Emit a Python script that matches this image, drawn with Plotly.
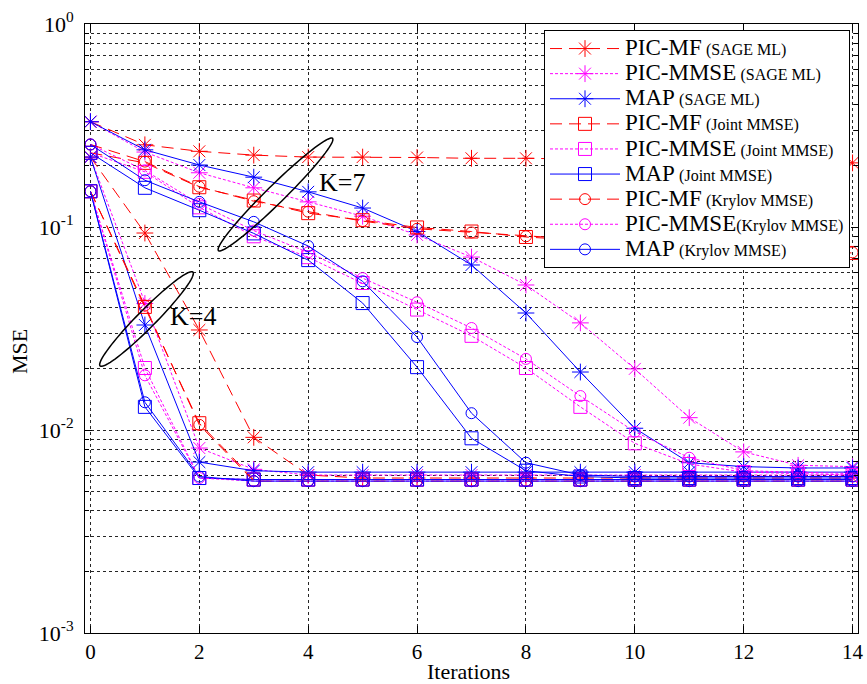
import math
import plotly.graph_objects as go

# ---------------- data ----------------
iterations = list(range(15))

# K = 7
pic_mf_sage_k7 = [0.33, 0.254, 0.236, 0.226, 0.221, 0.221, 0.220, 0.218, 0.218, 0.216, 0.214, 0.212, 0.210, 0.208, 0.207]
pic_mmse_sage_k7 = [0.33, 0.234, 0.185, 0.156, 0.133, 0.113, 0.0914, 0.0711, 0.0518, 0.0337, 0.0200, 0.0115, 0.0078, 0.0067, 0.0066]
map_sage_k7 = [0.33, 0.240, 0.202, 0.176, 0.149, 0.124, 0.095, 0.065, 0.0377, 0.0193, 0.0102, 0.0069, 0.0066, 0.0065, 0.0065]
pic_mf_joint_k7 = [0.232, 0.207, 0.157, 0.135, 0.117, 0.108, 0.0995, 0.095, 0.0893, 0.086, 0.083, 0.080, 0.078, 0.076, 0.0745]
pic_mmse_joint_k7 = [0.232, 0.187, 0.125, 0.090, 0.071, 0.053, 0.0392, 0.0291, 0.0202, 0.0130, 0.0086, 0.0068, 0.0062, 0.0061, 0.0060]
map_joint_k7 = [0.232, 0.156, 0.121, 0.093, 0.0687, 0.0422, 0.0204, 0.0091, 0.0063, 0.0059, 0.0058, 0.0058, 0.0058, 0.0058, 0.0058]
pic_mf_krylov_k7 = [0.255, 0.210, 0.158, 0.134, 0.119, 0.107, 0.098, 0.094, 0.090, 0.087, 0.084, 0.081, 0.079, 0.077, 0.075]
pic_mmse_krylov_k7 = [0.255, 0.190, 0.130, 0.096, 0.075, 0.056, 0.0426, 0.0318, 0.0224, 0.0147, 0.0098, 0.0073, 0.0063, 0.0062, 0.0061]
map_krylov_k7 = [0.255, 0.170, 0.133, 0.106, 0.0806, 0.054, 0.0287, 0.0121, 0.0069, 0.0060, 0.0059, 0.0059, 0.0059, 0.0059, 0.0059]

# K = 4
pic_mf_sage_k4 = [0.221, 0.0934, 0.0311, 0.0092, 0.0060, 0.0058, 0.0058, 0.0058, 0.0058, 0.0058, 0.0058, 0.0058, 0.0058, 0.0058, 0.0058]
pic_mmse_sage_k4 = [0.221, 0.042, 0.00815, 0.0064, 0.0060, 0.0060, 0.0060, 0.0060, 0.0060, 0.0060, 0.0060, 0.0060, 0.0060, 0.0060, 0.0060]
map_sage_k4 = [0.221, 0.0329, 0.00695, 0.0063, 0.0062, 0.0062, 0.0062, 0.0062, 0.0062, 0.0062, 0.0062, 0.0062, 0.0062, 0.0062, 0.0062]
pic_mf_joint_k4 = [0.150, 0.0404, 0.0108, 0.0057, 0.0057, 0.0057, 0.0057, 0.0057, 0.0057, 0.0057, 0.0057, 0.0057, 0.0057, 0.0057, 0.0057]
pic_mmse_joint_k4 = [0.150, 0.0202, 0.0058, 0.0057, 0.0057, 0.0057, 0.0057, 0.0057, 0.0057, 0.0057, 0.0057, 0.0057, 0.0057, 0.0057, 0.0057]
map_joint_k4 = [0.150, 0.0130, 0.0058, 0.0057, 0.0057, 0.0057, 0.0057, 0.0057, 0.0057, 0.0057, 0.0057, 0.0057, 0.0057, 0.0057, 0.0057]
pic_mf_krylov_k4 = [0.150, 0.0410, 0.0106, 0.0056, 0.0056, 0.0056, 0.0056, 0.0056, 0.0056, 0.0056, 0.0056, 0.0056, 0.0056, 0.0056, 0.0056]
pic_mmse_krylov_k4 = [0.150, 0.0186, 0.0058, 0.0056, 0.0056, 0.0056, 0.0056, 0.0056, 0.0056, 0.0056, 0.0056, 0.0056, 0.0056, 0.0056, 0.0056]
map_krylov_k4 = [0.150, 0.0137, 0.0059, 0.0056, 0.0056, 0.0056, 0.0056, 0.0056, 0.0056, 0.0056, 0.0056, 0.0056, 0.0056, 0.0056, 0.0056]

detectors = ["PIC-MF", "PIC-MMSE", "MAP"] * 3
estimators = ["(SAGE ML)"] * 3 + ["(Joint MMSE)"] * 3 + ["(Krylov MMSE)"] * 3
separators = [" ", " ", " ", " ", " ", " ", " ", "", " "]

series_k7 = [pic_mf_sage_k7, pic_mmse_sage_k7, map_sage_k7,
             pic_mf_joint_k7, pic_mmse_joint_k7, map_joint_k7,
             pic_mf_krylov_k7, pic_mmse_krylov_k7, map_krylov_k7]
series_k4 = [pic_mf_sage_k4, pic_mmse_sage_k4, map_sage_k4,
             pic_mf_joint_k4, pic_mmse_joint_k4, map_joint_k4,
             pic_mf_krylov_k4, pic_mmse_krylov_k4, map_krylov_k4]

y_tickvals = [1e-3, 1e-2, 1e-1, 1]
y_ticktext = ["10<sup>-3</sup>", "10<sup>-2</sup>", "10<sup>-1</sup>", "10<sup>0</sup>"]
x_tickvals = [0, 2, 4, 6, 8, 10, 12, 14]

# ---------------- styles ----------------
RED, MAG, BLUE = "#FF0000", "#FF00FF", "#0000FF"
colors = [RED, MAG, BLUE] * 3
dashes = ["12px,7px", "3px,2px", "solid"] * 3
symbols = ["asterisk-open"] * 3 + ["square-open"] * 3 + ["circle-open"] * 3
sizes = [14] * 3 + [13] * 3 + [11] * 3

FONT = "Liberation Serif"

def legend_label(i):
    return (f"<span style='font-size:23px'>{detectors[i]}</span>{separators[i]}"
            f"<span style='font-size:16px'>{estimators[i]}</span>")

fig = go.Figure()
for i in range(9):
    for k, ser in enumerate((series_k7, series_k4)):
        fig.add_trace(go.Scatter(
            x=iterations, y=ser[i], mode="lines+markers",
            name=legend_label(i), legendgroup=str(i), showlegend=(k == 0),
            line=dict(color=colors[i], width=1, dash=dashes[i]),
            marker=dict(symbol=symbols[i], size=sizes[i], color=colors[i],
                        line=dict(color=colors[i], width=1)),
        ))

# ---------------- annotations (ellipses, labels) ----------------
L, R, T, B = 85, 858, 24, 633
def px2paper(px, py):
    return (px - L) / (R - L), (B - py) / (B - T)

def ellipse_path(cx, cy, a, b, ang_deg, n=80):
    th = math.radians(ang_deg)
    pts = []
    for j in range(n + 1):
        t = 2 * math.pi * j / n
        ex, ey = a * math.cos(t), b * math.sin(t)
        px = cx + ex * math.cos(th) - ey * math.sin(th)
        py = cy + ex * math.sin(th) + ey * math.cos(th)
        pts.append(px2paper(px, py))
    return "M " + " L ".join(f"{x:.5f},{y:.5f}" for x, y in pts) + " Z"

fig.add_shape(type="path", xref="paper", yref="paper",
              path=ellipse_path(275.5, 194.5, 80, 9, -44.5),
              line=dict(color="black", width=1.5))
fig.add_shape(type="path", xref="paper", yref="paper",
              path=ellipse_path(146.5, 319, 66, 9, -45.3),
              line=dict(color="black", width=1.5))

def add_text(px, py, text, size, angle=0):
    x, y = px2paper(px, py)
    fig.add_annotation(x=x, y=y, xref="paper", yref="paper", text=text,
                       xanchor="center", yanchor="middle", textangle=angle,
                       showarrow=False, font=dict(family=FONT, size=size, color="black"))

add_text(342, 182, "K=7", 26)
add_text(193, 316, "K=4", 26)
add_text(468, 671, "Iterations", 22)
add_text(19, 352, "MSE", 22, -90)

grid = dict(gridcolor="rgba(0,0,0,0.85)", griddash="3px,3px", gridwidth=1)

minor_vals = [m * 10 ** e for e in (-3, -2, -1) for m in range(2, 10)]

lx, ly = px2paper(850, 30)
fig.update_layout(
    width=867, height=684,
    margin=dict(l=L, r=867 - R, t=T, b=684 - B),
    paper_bgcolor="white", plot_bgcolor="white",
    font=dict(family=FONT, size=19, color="black"),
    showlegend=True,
    legend=dict(x=lx, y=ly, xanchor="right", yanchor="top",
                bgcolor="white", bordercolor="black", borderwidth=1,
                font=dict(family=FONT, size=17, color="black"),
                itemwidth=70, tracegroupgap=0),
    xaxis=dict(range=[-0.1, 14.1], tickmode="array", tickvals=x_tickvals,
               ticks="inside", ticklen=7, tickcolor="black", automargin=False,
               showline=True, linecolor="black", linewidth=1, mirror="ticks",
               showgrid=True, zeroline=False,
               tickfont=dict(size=21), **grid),
    yaxis=dict(type="log", range=[-3, 0], tickmode="array",
               tickvals=y_tickvals, ticktext=y_ticktext,
               ticks="inside", ticklen=7, tickcolor="black", automargin=False,
               showline=True, linecolor="black", linewidth=1, mirror="ticks",
               showgrid=True, zeroline=False, ticklabelstandoff=6,
               minor=dict(tickmode="array", tickvals=minor_vals, ticks="inside",
                          ticklen=4, tickcolor="black", showgrid=True, **grid),
               tickfont=dict(size=22), **grid),
)

fig.write_html("out.html", config={"displayModeBar": False},
               post_script="document.body.style.margin='0';")
